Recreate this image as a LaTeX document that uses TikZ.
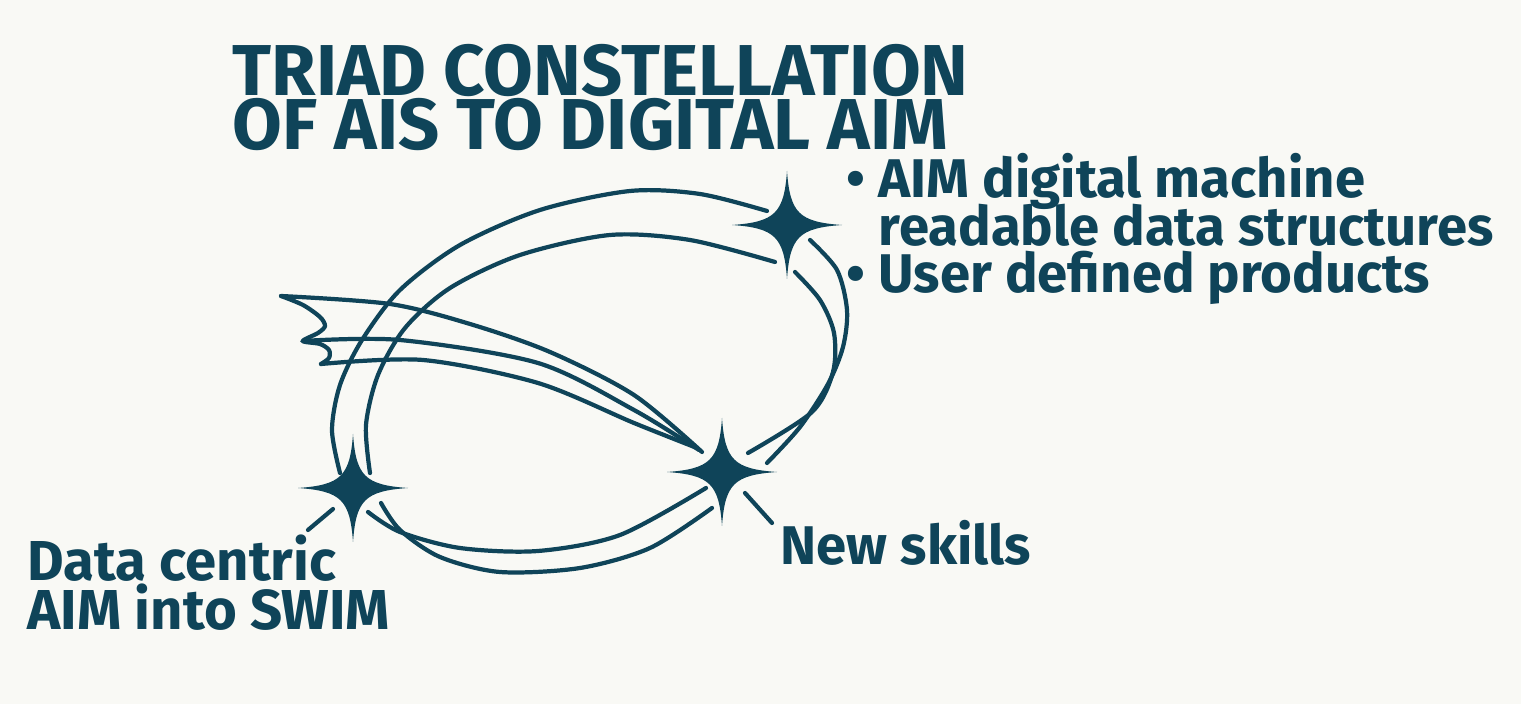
\documentclass[tikz,border=0pt]{standalone}
\usepackage{fontspec}
\setmainfont{Fira Sans}
\usetikzlibrary{positioning}
\definecolor{tinta}{HTML}{0F4459}
\definecolor{fondo}{HTML}{F9F9F5}
\newcommand{\apretado}{\lineskiplimit -30pt\relax}% sin lineskip extra
\newcommand{\vineta}{\makebox[0.32cm][l]{•}}% punto de la lista
\tikzset{estrella/.pic={\fill[tinta] (0,-54) .. controls (3,-12) and (12,-3) .. (55,0) .. controls (12,3) and (3,12) .. (0,54) .. controls (-3,12) and (-12,3) .. (-55,0) .. controls (-12,-3) and (-3,-12) .. cycle;}}% estrella de cuatro puntas
\begin{document}
\begin{tikzpicture}[x=0.01cm,y=-0.01cm]
\tikzstyle{every node}=[text=tinta, inner sep=0pt, anchor=base west, align=left]% texto de cada nodo, base = ultima linea
\tikzstyle{orbita}=[tinta, line width=1.2pt, line cap=round]% trazo de las curvas
\tikzstyle{titulo}=[font={\fontsize{20.5}{15.6}\selectfont\bfseries\apretado}]
\tikzstyle{texto}=[font={\fontsize{15.5}{13.6}\selectfont\bfseries\apretado}]
\fill[fondo] (0,0) rectangle (1521,704);% fondo
\coordinate (estSup) at (787,225);
\coordinate (estMed) at (722,472);
\coordinate (estIzq) at (353,488);
% orbitas
\draw[orbita] plot[smooth] coordinates {(340,473) (332,430) (340,385) (362,340) (400,290) (460,245) (540,210) (630,191) (700,194) (767,211)};
\draw[orbita] plot[smooth] coordinates {(370,473) (366,425) (378,375) (405,328) (450,288) (520,255) (610,235) (690,240) (775,262)};
\draw[orbita] plot[smooth] coordinates {(810,240) (837,270) (847,310) (843,347) (828,384) (800,427) (767,463)};
\draw[orbita] plot[smooth] coordinates {(795,272) (820,300) (834,333) (833,372) (812,412) (748,453)};
\draw[orbita] plot[smooth] coordinates {(368,512) (400,532) (460,548) (538,551) (620,535) (706,488)};
\draw[orbita] plot[smooth] coordinates {(381,503) (400,530) (440,557) (500,572) (580,568) (650,548) (712,508)};
% cola del cometa
\draw[orbita] plot[smooth] coordinates {(281,296) (303,305) (320,317) (325,326) (318,333) (303,341) (320,344) (329,350) (329,358) (321,364)};
\draw[orbita] plot[smooth] coordinates {(281,296) (390,304) (470,324) (550,352) (634,395) (702,452)};
\draw[orbita] plot[smooth] coordinates {(303,341) (400,340) (538,363) (634,410) (699,450)};
\draw[orbita] plot[smooth] coordinates {(321,364) (423,360) (538,383) (634,423) (697,448)};
% estrellas
\pic at (estSup) {estrella};
\pic at (estMed) {estrella};
\pic at (estIzq) {estrella};
\draw[orbita] (333,509) -- (308,530);
\draw[orbita] (745,493) -- (772,523);
% textos
\node[titulo] (titulo) at (232,150) {TRIAD CONSTELLATION\\OF AIS TO DIGITAL AIM};
\node[texto] (lista) at (846,293) {\vineta AIM digital machine\\\hspace*{0.32cm}readable data structures\\\vineta User defined products};
\node[texto, font={\fontsize{16}{14.2}\selectfont\bfseries\apretado}] (centrico) at (27,630) {Data centric\\AIM into SWIM};
\node[texto] (nuevas) at (780,565) {New skills};
\end{tikzpicture}
\end{document}
